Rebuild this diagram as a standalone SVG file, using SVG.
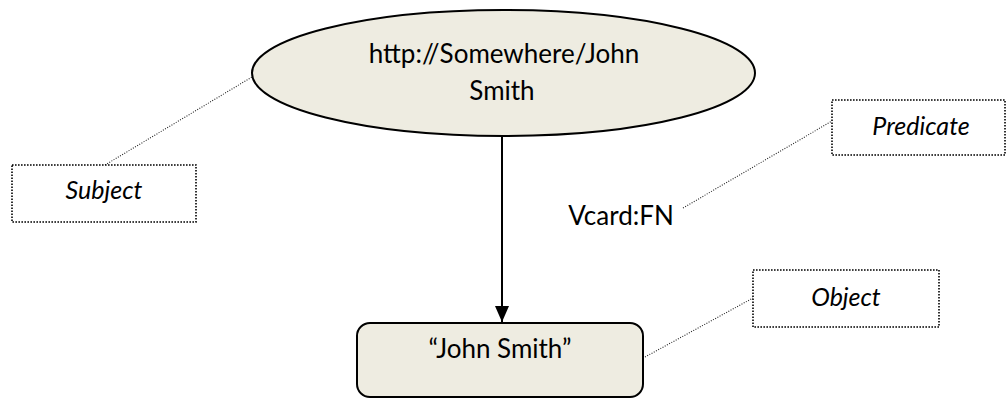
<svg xmlns="http://www.w3.org/2000/svg" width="1006" height="398" viewBox="0 0 1006 398">
  <style>
    .txt { font-family: Lato, "Open Sans", "Liberation Sans", sans-serif; font-size: 26px; fill: #000; text-anchor: middle; }
    .lbl { font-style: italic; font-size: 25px; }
    .node { fill: #EEECE1; stroke: #000; stroke-width: 2; }
    .tag { fill: #fff; stroke: #000; stroke-width: 1.6; stroke-dasharray: 1.6 1.4; }
    .leader { fill: none; stroke: #222; stroke-width: 1.1; stroke-dasharray: 1 1.5; }
    .edge { fill: none; stroke: #000; stroke-width: 2; }
  </style>
  <defs>
    <marker id="arrow" viewBox="0 0 16 14" refX="16" refY="7" markerWidth="16" markerHeight="14" markerUnits="userSpaceOnUse" orient="auto">
      <path d="M0,0 L16,7 L0,14 Z" fill="#000"/>
    </marker>
  </defs>

  <rect width="1006" height="398" fill="#fff"/>

  <!-- connectors: the statement arc and the dotted callout leaders -->
  <g id="connectors">
    <line class="edge" x1="502" y1="136" x2="502" y2="322" marker-end="url(#arrow)"/>
    <line class="leader" x1="105" y1="165" x2="252" y2="77"/>
    <line class="leader" x1="683" y1="208" x2="832" y2="121"/>
    <line class="leader" x1="645" y1="357" x2="753" y2="298"/>
  </g>

  <!-- subject resource -->
  <g id="subject-node">
    <ellipse class="node" cx="503.5" cy="73" rx="251.5" ry="63"/>
    <text class="txt" x="504" y="63">http://Somewhere/John</text>
    <text class="txt" x="502" y="100">Smith</text>
  </g>

  <!-- object literal -->
  <g id="object-node">
    <rect class="node" x="357" y="323" width="286" height="74" rx="13" ry="13"/>
    <text class="txt" x="500" y="358">“John Smith”</text>
  </g>

  <!-- predicate label on the arc -->
  <g id="predicate-label">
    <text class="txt" x="621" y="225">Vcard:FN</text>
  </g>

  <!-- callout boxes -->
  <g id="subject-callout">
    <rect class="tag" x="12" y="165" width="184" height="57"/>
    <text class="txt lbl" x="104" y="199">Subject</text>
  </g>
  <g id="predicate-callout">
    <rect class="tag" x="832" y="100" width="173" height="55"/>
    <text class="txt lbl" x="921" y="135">Predicate</text>
  </g>
  <g id="object-callout">
    <rect class="tag" x="753" y="270" width="186" height="57"/>
    <text class="txt lbl" x="846" y="306">Object</text>
  </g>
</svg>
